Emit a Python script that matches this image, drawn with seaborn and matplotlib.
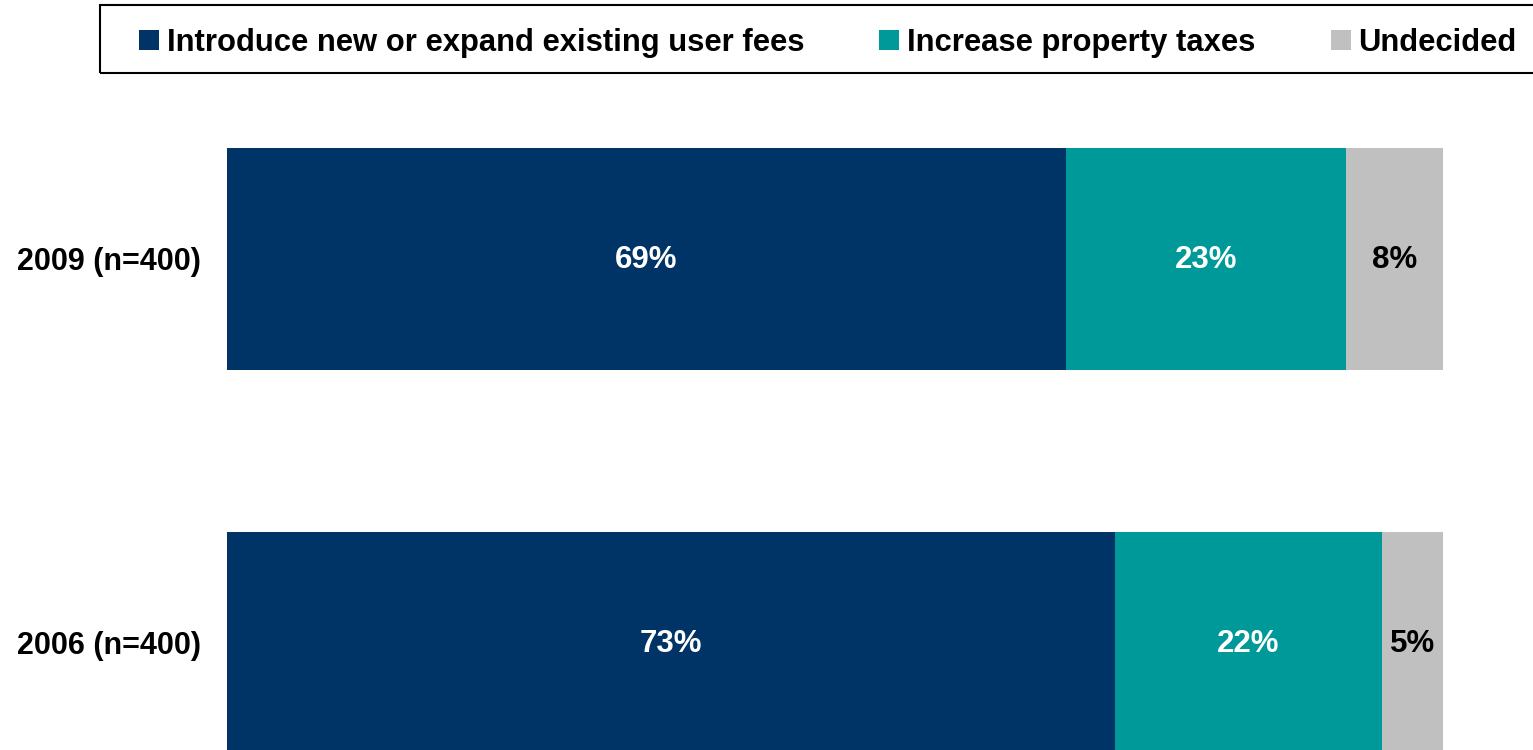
import pandas as pd
import matplotlib
matplotlib.use("Agg")
import matplotlib.pyplot as plt
import seaborn as sns
from matplotlib.patches import Patch, Rectangle

# Data
years = ["2009 (n=400)", "2006 (n=400)"]
user_fees = [69, 73]
property_taxes = [23, 22]
undecided = [8, 5]
series_names = ["Introduce new or expand existing user fees", "Increase property taxes", "Undecided"]
colors = ["#003366", "#009999", "#C0C0C0"]

df = pd.DataFrame({"year": years, "fees": user_fees, "taxes": property_taxes, "undecided": undecided})
df["cum_taxes"] = df["fees"] + df["taxes"]
df["cum_all"] = df["cum_taxes"] + df["undecided"]

sns.set_style("white")
plt.rcParams["font.family"] = ["Liberation Sans", "DejaVu Sans"]
plt.rcParams["text.color"] = "black"
plt.rcParams["ytick.color"] = "black"

fig = plt.figure(figsize=(15.33, 7.5), dpi=100)
ax = fig.add_axes([227 / 1533, 0, 1216 / 1533, 670 / 750])

# stacked look: draw cumulative totals from the back to the front
for col, c in zip(["cum_all", "cum_taxes", "fees"], colors[::-1]):
    sns.barplot(data=df, x=col, y="year", color=c, width=0.58, orient="h",
                ax=ax, saturation=1, linewidth=0)

for i, row in df.iterrows():
    ax.text(row["fees"] / 2, i + 0.004, f"{row['fees']}%", ha="center", va="center",
            color="white", fontsize=22.5, fontweight="bold")
    ax.text(row["fees"] + row["taxes"] / 2, i + 0.004, f"{row['taxes']}%", ha="center", va="center",
            color="white", fontsize=22.5, fontweight="bold")
    ax.text(row["cum_taxes"] + row["undecided"] / 2, i + 0.004, f"{row['undecided']}%", ha="center",
            va="center", color="black", fontsize=22.5, fontweight="bold")

ax.set_xlim(0, 100)
ax.set_ylim(1.279, -0.466)
ax.set_xlabel("")
ax.set_ylabel("")
ax.set_xticks([])
ax.tick_params(axis="y", length=0, pad=19)
for lab in ax.get_yticklabels():
    lab.set_fontsize(22)
    lab.set_fontweight("bold")
sns.despine(ax=ax, left=True, bottom=True)

# legend frame drawn separately (runs past the right edge in the reference)
fig.patches.append(Rectangle((100 / 1533, 1 - 73 / 750), 1460 / 1533, 68 / 750,
                             transform=fig.transFigure, facecolor="none",
                             edgecolor="black", linewidth=1.5))

handles = [Patch(facecolor=c, edgecolor="none") for c in colors]
fig.legend(handles, series_names, loc="center left", bbox_to_anchor=(139 / 1533, 1 - 43 / 750),
           ncol=3, frameon=False, borderpad=0, borderaxespad=0,
           handlelength=0.65, handleheight=0.65, handletextpad=0.25, columnspacing=2.42,
           prop={"weight": "bold", "size": 22.3})

fig.savefig("out.png", dpi=100)
